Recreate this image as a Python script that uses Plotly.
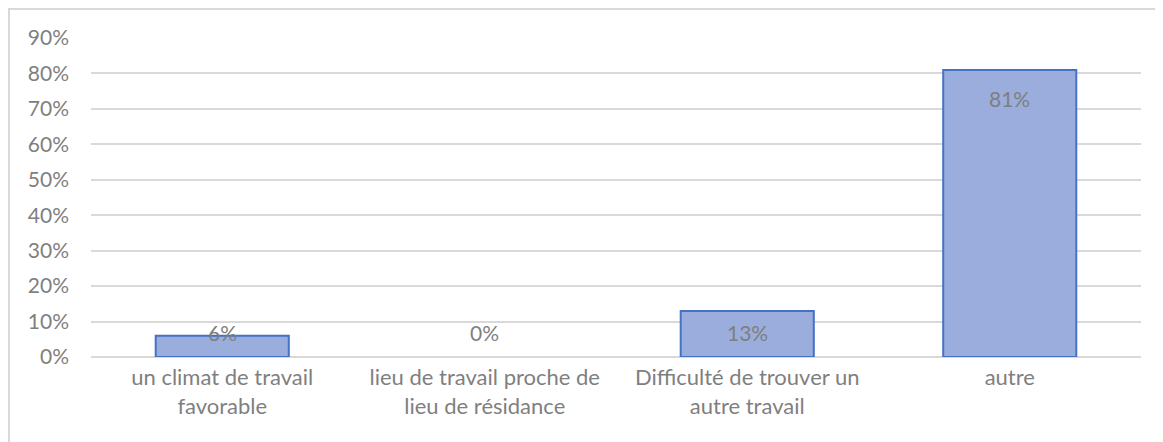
import plotly.graph_objects as go

categories = ["un climat de travail<br>favorable",
              "lieu de travail proche de<br>lieu de résidance",
              "Difficulté de trouver un<br>autre travail",
              "autre"]
values = [0.06, 0.00, 0.13, 0.81]
labels = ["6%", "0%", "13%", "81%"]
tick_vals = [0, 0.1, 0.2, 0.3, 0.4, 0.5, 0.6, 0.7, 0.8, 0.9]

grey = "#7f7f7f"
font_name = "Lato, Open Sans, sans-serif"
fsize = 21

fig = go.Figure()

# no outline on an empty bar, like in Excel
outline = [2 if v > 0 else 0 for v in values]

fig.add_trace(go.Bar(x=categories, y=values,
                     marker=dict(color="#9aaddc",
                                 line=dict(color="#4472c4", width=outline)),
                     width=0.507,
                     hoverinfo="skip"))

# data labels, pushed down from bar top (inside end), kept above the axis
for c, v, t in zip(categories, values, labels):
    fig.add_annotation(x=c, y=max(v - 0.08, 0.07), text=t, showarrow=False,
                       font=dict(family=font_name, size=fsize, color=grey),
                       yanchor="middle")

# page has an 8px body margin, so the figure is sized/margined to compensate
fig.update_layout(
    width=1155, height=434,
    margin=dict(l=83, r=22, t=30, b=85),
    paper_bgcolor="white",
    plot_bgcolor="white",
    showlegend=False,
    font=dict(family=font_name, size=fsize, color=grey),
    xaxis=dict(showgrid=False, showline=False, ticks="", ticklabelstandoff=5,
               tickfont=dict(size=22, color=grey)),
    yaxis=dict(range=[0, 0.9], tickvals=tick_vals, tickformat=".0%",
               showgrid=True, gridcolor="#d9d9d9", gridwidth=1.5,
               zeroline=True, zerolinecolor="#d9d9d9", zerolinewidth=1.5,
               showline=False, ticks="", ticklabelstandoff=21,
               tickfont=dict(size=fsize, color=grey)),
    shapes=[dict(type="rect", xref="paper", yref="paper",
                 x0=-0.0781, x1=1.1, y0=-0.6, y1=1.0909,
                 line=dict(color="#d9d9d9", width=2))],
)

fig.write_html("out.html")
